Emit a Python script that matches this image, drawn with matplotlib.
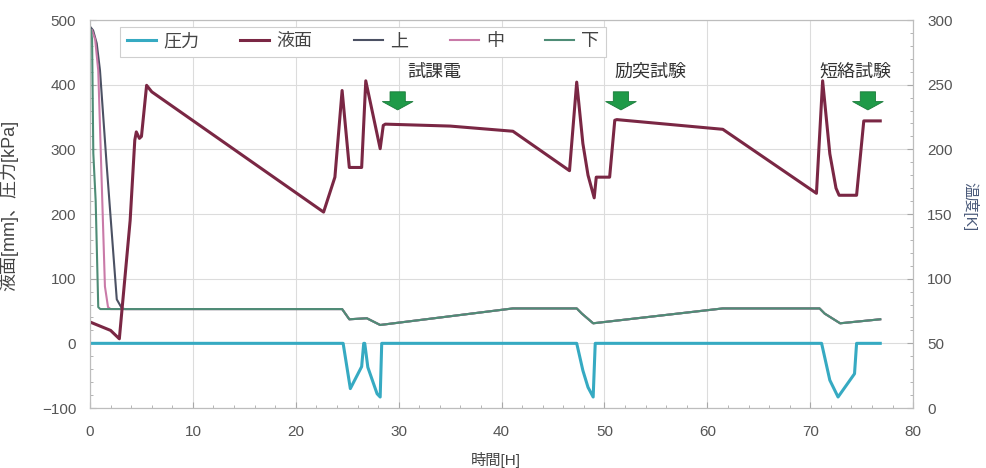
import matplotlib.pyplot as plt
import numpy as np
from matplotlib.ticker import MultipleLocator

plt.rcParams['font.family'] = ['Liberation Sans', 'Noto Sans CJK JP', 'DejaVu Sans']

# liquid level [mm]
time_level = [0, 2.0, 2.85, 3.9, 4.35, 4.5, 4.8, 5.0, 5.5, 6.0, 22.7, 23.8, 24.5, 25.2,
              26.4, 26.8, 28.2, 28.5, 28.7, 35.0, 41.1, 46.6, 47.3, 47.9, 48.4, 49.0,
              49.2, 50.5, 51.0, 51.2, 61.5, 70.6, 71.2, 71.9, 72.5, 72.8, 74.5, 75.2, 76.8]
level = [33, 20, 7, 190, 314, 327, 317, 320, 399, 389, 203, 257, 391, 272,
         272, 406, 301, 337, 339, 336, 328, 267, 404, 309, 260, 225,
         257, 257, 345, 346, 331, 232, 406, 293, 240, 229, 229, 344, 344]

# pressure [kPa]
time_press = [0, 24.6, 25.3, 26.4, 26.6, 26.7, 27.0, 27.9, 28.2, 28.35,
              47.3, 47.9, 48.4, 48.9, 49.1, 71.1, 71.9, 72.7, 74.3, 74.5, 76.8]
press = [0, 0, -70, -36, 0, 0, -37, -78, -83, 0,
         0, -42, -68, -83, 0, 0, -57, -83, -47, 0, 0]

# temperature [K], first part of each sensor
time_upper = [0.1, 0.3, 0.65, 0.97, 1.6, 2.6, 3.1]
temp_upper = [294, 292, 282, 261, 190, 84, 77]
time_mid = [0.2, 0.5, 0.8, 1.45, 1.75, 2.0]
temp_mid = [292, 285, 261, 94, 78, 76.5]
time_low = [0.1, 0.2, 0.32, 0.55, 0.8, 1.0]
temp_low = [292, 285, 197, 160, 78, 76.5]

# temperature after all sensors merge
time_tail = [3.4, 24.5, 25.2, 26.9, 28.2, 41.1, 47.3, 47.8, 48.9, 61.5, 70.9, 71.4, 72.9, 76.8]
temp_tail = [76.5, 76.5, 68.6, 69.4, 64.2, 77, 77, 73, 65.5, 77, 77, 73, 65.5, 68.6]

events = ['試課電', '励突試験', '短絡試験']
event_text_x = [33.5, 54.5, 74.4]
arrow_x = [29.9, 51.6, 75.6]

c_press = '#36aac2'
c_level = '#7a2744'
c_upper = '#4b5163'
c_mid = '#c97aa8'
c_low = '#4e8c76'
grid_c = '#dcdcdc'
spine_c = '#bdbdbd'
tick_c = '#555555'

fig = plt.figure(figsize=(9.87, 4.68), dpi=100)
ax = fig.add_axes([0.0912, 0.1282, 0.834, 0.829])
ax2 = ax.twinx()

# temperatures on right axis
h_up, = ax2.plot(time_upper + time_tail, temp_upper + temp_tail, color=c_upper, lw=1.5, label='上')
h_mid, = ax2.plot(time_mid + time_tail, temp_mid + temp_tail, color=c_mid, lw=1.5, label='中')
h_low, = ax2.plot(time_low + time_tail, temp_low + temp_tail, color=c_low, lw=1.5, label='下')

# level and pressure use the left scale, but live on ax2 so they sit above the temperatures
to_left = ax.transData
h_press, = ax2.plot(time_press, press, color=c_press, lw=2.2, transform=to_left, label='圧力')
h_level, = ax2.plot(time_level, level, color=c_level, lw=2.2, transform=to_left, label='液面')

ax.set_xlim(0, 80)
ax.set_ylim(-100, 500)
ax2.set_ylim(0, 300)
ax.xaxis.set_major_locator(MultipleLocator(10))
ax.xaxis.set_minor_locator(MultipleLocator(2))
ax.yaxis.set_major_locator(MultipleLocator(100))
ax.yaxis.set_minor_locator(MultipleLocator(20))
ax2.yaxis.set_major_locator(MultipleLocator(50))
ax2.yaxis.set_minor_locator(MultipleLocator(10))

ax.grid(which='major', color=grid_c, lw=0.8)
ax.set_axisbelow(True)

for a in (ax, ax2):
    for s in a.spines.values():
        s.set_color(spine_c)
        s.set_linewidth(0.8)
    a.tick_params(which='both', direction='in', color='#a8a8a8', labelcolor=tick_c, labelsize=11)
    a.tick_params(which='major', length=4)
    a.tick_params(which='minor', length=2)
ax.tick_params(axis='y', pad=10)
ax.tick_params(axis='x', pad=12)
ax2.tick_params(axis='y', pad=10)

ax.set_xlabel('時間[H]', fontsize=11, color='#444444')
ax.xaxis.set_label_coords(0.493, -0.113)
ax.set_ylabel('液面[mm]、圧力[kPa]', fontsize=13, color='#444444')
ax.yaxis.set_label_coords(-0.087, 0.523)
ax2.set_ylabel('温度[K]', fontsize=11, color='#4a5a7a', rotation=270, va='center')
ax2.yaxis.set_label_coords(1.069, 0.518)

# event labels and arrows
for name, tx in zip(events, event_text_x):
    ax2.text(tx, 419, name, transform=to_left, ha='center', va='center', fontsize=13, color='#333333')
for xa in arrow_x:
    ax2.annotate('', xy=(xa, 361), xytext=(xa, 389), xycoords=to_left, textcoords=to_left,
                 arrowprops=dict(arrowstyle='simple,head_length=0.3,head_width=1.1,tail_width=0.55',
                                 mutation_scale=20, fc='#1f9a48', ec='#1a7a3a', lw=0.6,
                                 shrinkA=0, shrinkB=0))

leg = ax2.legend(handles=[h_press, h_level, h_up, h_mid, h_low], ncol=5, loc='upper left',
                 bbox_to_anchor=(0.026, 1.005), fontsize=13, handlelength=1.6,
                 handletextpad=0.4, columnspacing=2.3, frameon=True, fancybox=False,
                 edgecolor='#cfcfcf', framealpha=1, borderpad=0.35)
leg.get_frame().set_linewidth(0.8)
for t in leg.get_texts():
    t.set_color('#444444')

fig.savefig('out.png', dpi=100)
